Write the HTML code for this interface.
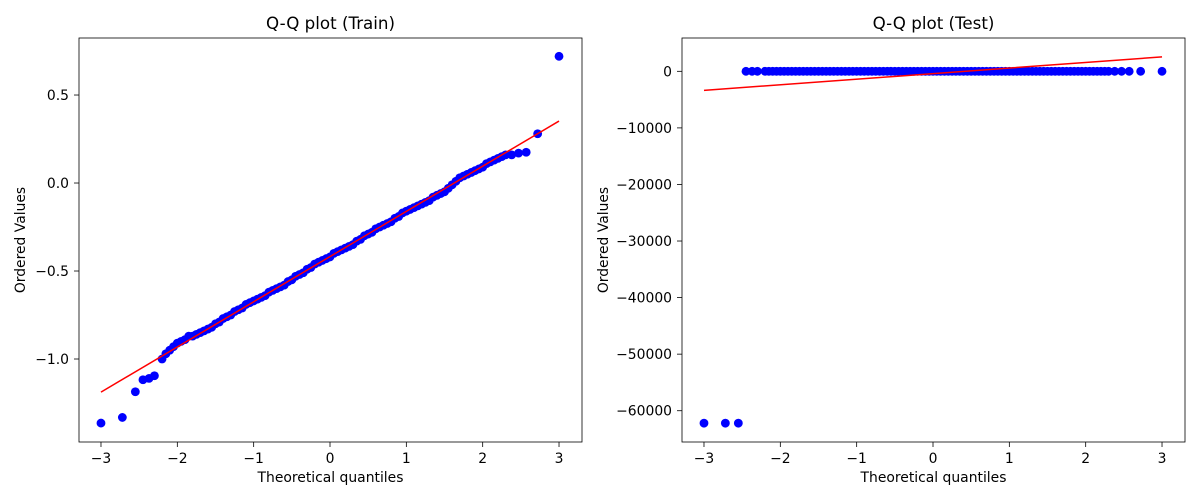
<!DOCTYPE html>
<html><head><meta charset="utf-8"><style>body{margin:0;background:#fff}svg{display:block;font-family:"DejaVu Sans","Liberation Sans",sans-serif}</style></head>
<body>
<svg id="c" width="1200" height="500" viewBox="0 0 1200 500"></svg>
<script>
// Theoretical quantiles (shared)
const qTail = [-3, -2.72, -2.55, -2.45, -2.37, -2.30];
const qMid = [-2.2,-2.15,-2.1,-2.05,-2,-1.95,-1.9,-1.85,-1.8,-1.75,-1.7,-1.65,-1.6,-1.55,-1.5,-1.45,-1.4,-1.35,-1.3,-1.25,-1.2,-1.15,-1.1,-1.05,-1,-0.95,-0.9,-0.85,-0.8,-0.75,-0.7,-0.65,-0.6,-0.55,-0.5,-0.45,-0.4,-0.35,-0.3,-0.25,-0.2,-0.15,-0.1,-0.05,0,0.05,0.1,0.15,0.2,0.25,0.3,0.35,0.4,0.45,0.5,0.55,0.6,0.65,0.7,0.75,0.8,0.85,0.9,0.95,1,1.05,1.1,1.15,1.2,1.25,1.3,1.35,1.4,1.45,1.5,1.55,1.6,1.65,1.7,1.75,1.8,1.85,1.9,1.95,2,2.05,2.1,2.15,2.2,2.25,2.3];
const qHead = [2.38, 2.47, 2.57, 2.72, 3];
// Train ordered values
const trainTail = [-1.364,-1.332,-1.186,-1.118,-1.11,-1.095];
const trainMid = [-1.0,-0.97,-0.95,-0.93,-0.91,-0.9,-0.89,-0.87,-0.87,-0.86,-0.85,-0.84,-0.83,-0.82,-0.8,-0.79,-0.77,-0.76,-0.75,-0.73,-0.72,-0.71,-0.69,-0.68,-0.67,-0.66,-0.65,-0.64,-0.62,-0.61,-0.6,-0.59,-0.58,-0.56,-0.55,-0.53,-0.52,-0.51,-0.49,-0.48,-0.46,-0.45,-0.44,-0.43,-0.42,-0.4,-0.39,-0.38,-0.37,-0.36,-0.35,-0.33,-0.32,-0.3,-0.29,-0.28,-0.26,-0.25,-0.24,-0.23,-0.22,-0.2,-0.19,-0.17,-0.16,-0.15,-0.14,-0.13,-0.12,-0.11,-0.1,-0.08,-0.07,-0.06,-0.05,-0.03,-0.01,0.01,0.03,0.04,0.05,0.06,0.07,0.08,0.09,0.11,0.12,0.13,0.14,0.15,0.16];
const trainHead = [0.16,0.17,0.175,0.28,0.72];
const trainFit = [-1.188, 0.352];
// Test ordered values
const testTail = [-62200,-62200,-62200,0,0,0];
const testMid = qMid.map(()=>0);
const testHead = [0,0,0,0,0];
const testFit = [-3360, 2550];
const trainYTicks = [-1.0,-0.5,0.0,0.5];
const trainYLabels = ["−1.0","−0.5","0.0","0.5"];
const testYTicks = [-60000,-50000,-40000,-30000,-20000,-10000,0];
const testYLabels = ["−60000","−50000","−40000","−30000","−20000","−10000","0"];
const xTicks = [-3,-2,-1,0,1,2,3];
const xLabels = ["−3","−2","−1","0","1","2","3"];

const svg=document.getElementById('c');const NS='http://www.w3.org/2000/svg';
function mk(t,a,p){const e=document.createElementNS(NS,t);for(const k in a)e.setAttribute(k,a[k]);(p||svg).appendChild(e);return e;}
function panel(id,L,R,T,B,xmin,xmax,ymin,ymax,yT,yL,ys,fit,title){
  const g=mk('g',{});
  
  
  const sx=v=>L+(v-xmin)/(xmax-xmin)*(R-L), sy=v=>B-(v-ymin)/(ymax-ymin)*(B-T);
  const qs=qTail.concat(qMid,qHead);
  qs.forEach((q,i)=>{const c=mk('circle',{cx:sx(q),cy:sy(ys[i]),r:4.4,fill:'#0000ff'},g);
    
    });
  const ln=mk('line',{x1:sx(-3),y1:sy(fit[0]),x2:sx(3),y2:sy(fit[1]),stroke:'#ff0000','stroke-width':1.5},g);
  
  
  const fr=mk('rect',{x:L,y:T,width:R-L,height:B-T,fill:'none',stroke:'#000','stroke-width':0.8},g);
  
  
  xTicks.forEach((v,i)=>{const x=sx(v);mk('line',{x1:x,y1:B,x2:x,y2:B+5,stroke:'#000','stroke-width':0.8},g);
    const t=mk('text',{x:x,y:B+21,'text-anchor':'middle','font-size':13.9},g);t.textContent=xLabels[i];
    
    });
  yT.forEach((v,i)=>{const y=sy(v);mk('line',{x1:L-5,y1:y,x2:L,y2:y,stroke:'#000','stroke-width':0.8},g);
    const t=mk('text',{x:L-10,y:y+5,'text-anchor':'end','font-size':13.9},g);t.textContent=yL[i];
    
    });
  const tt=mk('text',{x:(L+R)/2,y:T-9,'text-anchor':'middle','font-size':16.7},g);tt.textContent=title;
  
  
  const xt=mk('text',{x:(L+R)/2,y:482,'text-anchor':'middle','font-size':13.9},g);xt.textContent='Theoretical quantiles';
  
  
  const yx=id==='train'?25:608;
  const yt=mk('text',{x:yx,y:(T+B)/2,'text-anchor':'middle','font-size':13.9,transform:`rotate(-90 ${yx} ${(T+B)/2})`},g);yt.textContent='Ordered Values';
  
  
}
panel('train',79,582,38,442,-3.288,3.301,-1.4716,0.824,trainYTicks,trainYLabels,trainTail.concat(trainMid,trainHead),trainFit,'Q-Q plot (Train)');
panel('test',682,1185,38,442,-3.288,3.301,-65530,5890,testYTicks,testYLabels,testTail.concat(testMid,testHead),testFit,'Q-Q plot (Test)');
</script>
</body></html>
